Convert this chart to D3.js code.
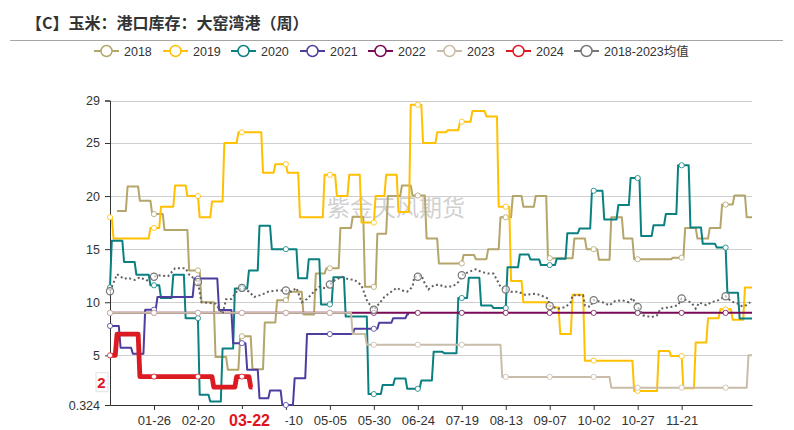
<!DOCTYPE html>
<html><head><meta charset="utf-8">
<script src="https://cdn.jsdelivr.net/npm/d3@7"></script>
<style>
body{margin:0;background:#fff;}
svg{display:block;font-family:"Liberation Sans","Noto Sans CJK SC",Arial,sans-serif;}
</style>
</head><body>
<svg id="c" width="794" height="430"></svg>
<script>
// ---------------- DATA (day of year, 0 = 01-01 of a leap-year axis) ----------------
const titleText = "【C】玉米：港口库存：大窑湾港（周）";
const watermark = "紫金天风期货";
const seriesNames = ["2018","2019","2020","2021","2022","2023","2024","2018-2023均值"];
const seriesColors = ["#b4a56b","#ffc000","#0a8080","#4c3d9e","#7a0a55","#c9bca8","#dc1a22","#777777"];

const s2018 = [[4,18.6],[10,20.9],[17,19.55],[24,18.3],[31,16.8],[45,13.0],[52,10.0],[60,4.85],[67,3.65],[74,6.8],[81,3.7],[88,8.1],[95,10.2],[102,11.0],[110,8.85],[117,12.7],[123,13.2],[131,17.0],[138,18.05],[145,11.45],[152,16.45],[158,20.0],[166,21.0],[172,20.05],[180,16.0],[187,13.65],[201,14.45],[208,14.06],[215,15.0],[222,18.0],[229,20.0],[235,19.0],[242,20.0],[249,14.15],[264,16.0],[271,15.0],[278,14.0],[285,18.0],[292,16.0],[298,14.05],[320,14.2],[327,17.0],[334,16.0],[341,17.0],[348,19.2],[355,20.05],[362,18.0],[365,18.0]];
const s2019 = [[0,18.0],[2,16.0],[23,17.0],[29,19.0],[37,21.0],[44,20.0],[51,18.0],[58,19.5],[65,25.0],[73,26.0],[87,22.2],[94,23.0],[101,22.2],[108,18.0],[122,22.0],[129,20.0],[136,22.0],[143,17.5],[151,20.0],[157,22.0],[164,18.5],[171,28.6],[178,25.0],[186,26.0],[192,26.2],[199,27.0],[206,28.0],[214,27.5],[221,19.0],[228,12.0],[235,10.0],[249,9.5],[256,7.0],[263,10.7],[270,4.5],[298,1.65],[312,5.4],[319,4.93],[326,1.9],[333,6.2],[340,8.5],[347,9.33],[354,8.35],[361,11.4],[365,11.4]];
const s2020 = [[0,11.4],[1,15.8],[8,13.8],[15,12.6],[23,11.6],[29,10.4],[36,12.6],[43,8.5],[51,1.3],[57,0.65],[64,5.65],[71,11.3],[79,13.0],[85,17.2],[92,15.0],[107,12.25],[113,14.05],[120,9.8],[127,12.35],[134,8.65],[147,1.35],[155,2.2],[162,2.82],[169,1.85],[177,2.63],[184,5.33],[190,5.2],[198,10.4],[204,12.3],[211,9.7],[218,9.45],[226,13.3],[233,14.5],[239,14.03],[245,13.5],[254,14.1],[260,16.5],[267,16.95],[274,20.5],[281,17.8],[289,19.15],[296,21.7],[302,16.25],[309,17.25],[316,18.3],[323,22.9],[330,17.05],[337,15.5],[345,15.15],[351,10.9],[358,8.46],[365,8.46]];
const s2021 = [[0,7.77],[6,5.72],[13,5.15],[20,9.3],[27,10.5],[48,12.23],[62,9.27],[70,6.15],[78,3.64],[85,0.95],[91,1.7],[98,0.324],[105,2.85],[112,7.0],[139,7.5],[153,8.07],[161,8.5],[169,8.87],[170,8.87]];
const s2022 = [[0,9.0],[365,9.0]];
const s2023 = [[0,9.0],[138,7.0],[146,6.0],[223,2.97],[285,1.96],[363,5.0],[365,5.0]];
const s2024 = [[0,5.0],[4,7.0],[17,3.0],[59,2.0],[72,3.0],[80,2.0],[81,2.0]];
const sAvg = [[0,11.04],[4,12.64],[8,12.2],[10,12.3],[14,12.1],[17,12.35],[21,12.05],[25,12.4],[27,12.55],[33,12.45],[37,13.2],[43,13.2],[45,12.6],[48,12.2],[50,11.9],[52,10.0],[60,9.87],[64,8.93],[66,10.28],[69,10.3],[72,11.0],[75,11.35],[79,11.0],[82,10.5],[86,10.7],[90,11.0],[94,11.1],[100,11.1],[103,11.0],[106,11.35],[109,10.0],[112,10.3],[116,11.0],[119,11.45],[123,11.3],[125,11.67],[128,12.1],[132,12.4],[135,12.2],[139,12.1],[143,11.6],[146,10.2],[148,9.7],[150,9.3],[153,9.87],[156,10.5],[160,11.0],[163,11.35],[166,11.1],[169,11.0],[172,11.45],[173,12.4],[175,12.4],[177,12.55],[179,11.76],[181,11.2],[184,11.6],[187,11.67],[190,11.45],[195,11.5],[198,11.9],[200,12.55],[204,12.86],[208,13.1],[211,12.86],[215,12.7],[218,12.7],[220,12.1],[222,11.45],[225,11.2],[228,11.0],[232,11.0],[236,10.7],[242,10.8],[245,10.65],[249,10.35],[250,9.65],[255,9.4],[259,9.56],[262,10.0],[263,10.65],[269,10.65],[270,9.7],[273,9.56],[275,10.2],[280,10.0],[284,9.7],[287,10.1],[291,10.2],[295,10.0],[297,10.4],[300,9.56],[303,8.77],[308,8.6],[311,8.77],[313,9.4],[319,9.56],[323,9.72],[325,10.35],[328,10.2],[331,9.87],[333,9.4],[335,9.97],[339,9.72],[342,10.0],[346,10.2],[350,10.57],[353,10.1],[357,9.87],[359,9.65],[361,9.65],[364,10.0]];

const xTickDays = [25,50,75,100,125,150,175,200,225,250,275,300,325];
const hiddenLabelDays = [75];   // label covered by the current-date marker
const yTicks = [0.324,5,10,15,20,25,29];
const yGrid = [5,10,15,20,25,29];
const currentDay = 81;          // 03-22
const lastValueLabel = "2";
const lastValue = 2;

// ---------------- CHART ----------------
const svg = d3.select("#c");
const x = d3.scaleLinear().domain([0,365]).range([110,752]);
const y = d3.scaleLinear().domain([0.324,29]).range([405,100.5]);
const baseDate = new Date(2024,0,1);
const fmt = d3.timeFormat("%m-%d");
const dayLabel = d => fmt(d3.timeDay.offset(baseDate,d));

// title
svg.append("text").attr("x",26).attr("y",29).attr("font-size",16).attr("font-weight","bold")
  .attr("fill","#333").attr("font-family","'Noto Sans CJK SC',sans-serif").text(titleText);
svg.append("line").attr("x1",10).attr("x2",783).attr("y1",40.5).attr("y2",40.5)
  .attr("stroke","#a6a6a6").attr("stroke-width",1);

// legend
const legendX = [94,163,231,300,368,437,506,574];
seriesNames.forEach((n,i)=>{
  const g = svg.append("g").attr("transform",`translate(${legendX[i]},51)`);
  g.append("line").attr("x1",0).attr("x2",25).attr("y1",0).attr("y2",0)
    .attr("stroke",seriesColors[i]).attr("stroke-width",2);
  g.append("circle").attr("cx",12.5).attr("cy",0).attr("r",5.5)
    .attr("fill","#fff").attr("stroke",seriesColors[i]).attr("stroke-width",1.5);
  g.append("text").attr("x",30).attr("y",4.5).attr("font-size",12.5).attr("fill","#333").text(n);
});

// grid
svg.append("g").selectAll("line").data(yGrid).join("line")
  .attr("x1",x(0)).attr("x2",x(365)).attr("y1",d=>Math.round(y(d))+0.5).attr("y2",d=>Math.round(y(d))+0.5)
  .attr("stroke","#cfcfcf").attr("stroke-width",1);

// watermark
svg.append("text").attr("x",396).attr("y",216).attr("text-anchor","middle")
  .attr("font-size",23).attr("fill","#c8c8c8").attr("fill-opacity",0.85)
  .attr("font-family","'Noto Sans CJK SC',sans-serif").text(watermark);

// y axis
const yAxis = d3.axisLeft(y).tickValues(yTicks).tickSize(5).tickFormat(d=>d===0.324?"0.324":d3.format("d")(d));
const gy = svg.append("g").attr("transform",`translate(${x(0)},0)`).call(yAxis);
gy.select(".domain").attr("stroke","#333");
gy.selectAll(".tick line").attr("stroke","#333");
gy.selectAll(".tick text").attr("font-size",12.5).attr("fill","#333").attr("font-family","'Liberation Sans',Arial,sans-serif").attr("dx",-2);

// x axis
const xAxis = d3.axisBottom(x).tickValues(xTickDays).tickSize(5).tickSizeOuter(0)
  .tickFormat(d=>hiddenLabelDays.includes(d)?"":dayLabel(d));
const gx = svg.append("g").attr("transform",`translate(0,${y(0.324)})`).call(xAxis);
gx.select(".domain").attr("stroke","#333");
gx.selectAll(".tick line").attr("stroke","#333");
gx.selectAll(".tick text").attr("font-size",13).attr("fill","#333").attr("font-family","'Liberation Sans',Arial,sans-serif").attr("dy","0.95em");

// series
const stepPts = s => { const p=[]; s.forEach((d,i)=>{ if(i>0) p.push([d[0]-1, s[i-1][1]]); p.push(d); }); return p; };
const valueAt = (s,d) => { if(d < s[0][0] || d > s[s.length-1][0]) return null; let v=null; for(const p of s){ if(p[0]<=d) v=p[1]; } return v; };
const line = d3.line().x(d=>x(d[0])).y(d=>y(d[1]));
const stepSeries = [s2018,s2019,s2020,s2021,s2022,s2023,s2024];
const markerDays = d3.range(0,351,25);

stepSeries.forEach((s,i)=>{
  const isCur = i===6;
  svg.append("path").attr("d",line(stepPts(s))).attr("fill","none")
    .attr("stroke",seriesColors[i]).attr("stroke-width",isCur?4.8:2).attr("stroke-linejoin","round");
  const mk = markerDays.map(d=>[d,valueAt(s,d)]).filter(d=>d[1]!==null);
  svg.append("g").selectAll("circle").data(mk).join("circle")
    .attr("cx",d=>x(d[0])).attr("cy",d=>y(d[1])).attr("r",2.6)
    .attr("fill","#fff").attr("stroke",seriesColors[i]).attr("stroke-opacity",0.8).attr("stroke-width",1);
});

// average
svg.append("path").attr("d",line(sAvg)).attr("fill","none")
  .attr("stroke","#606060").attr("stroke-width",2).attr("stroke-dasharray","2,2.6");
svg.append("g").selectAll("circle").data(sAvg.filter(d=>d[0]%25===0)).join("circle")
  .attr("cx",d=>x(d[0])).attr("cy",d=>y(d[1])).attr("r",3.6)
  .attr("fill","#fff").attr("fill-opacity",0.6).attr("stroke","#777").attr("stroke-width",1.2);

// current-date label on x axis
const cx = x(currentDay);
svg.append("rect").attr("x",cx-37).attr("y",409).attr("width",70).attr("height",21).attr("fill","#fff");
svg.append("text").attr("x",cx-3).attr("y",426).attr("text-anchor","middle").attr("font-size",16)
  .attr("font-weight","bold").attr("fill","#e0141e").text(dayLabel(currentDay));

// last value label on y axis
const ly = y(lastValue)-5;
svg.append("rect").attr("x",96).attr("y",ly-9.5).attr("width",12).attr("height",19)
  .attr("fill","#fff").attr("stroke","#e2e2e2").attr("stroke-width",1);
svg.append("text").attr("x",101.5).attr("y",ly+5.5).attr("text-anchor","middle").attr("font-size",15)
  .attr("font-weight","bold").attr("fill","#e0141e").text(lastValueLabel);
</script>
</body></html>
